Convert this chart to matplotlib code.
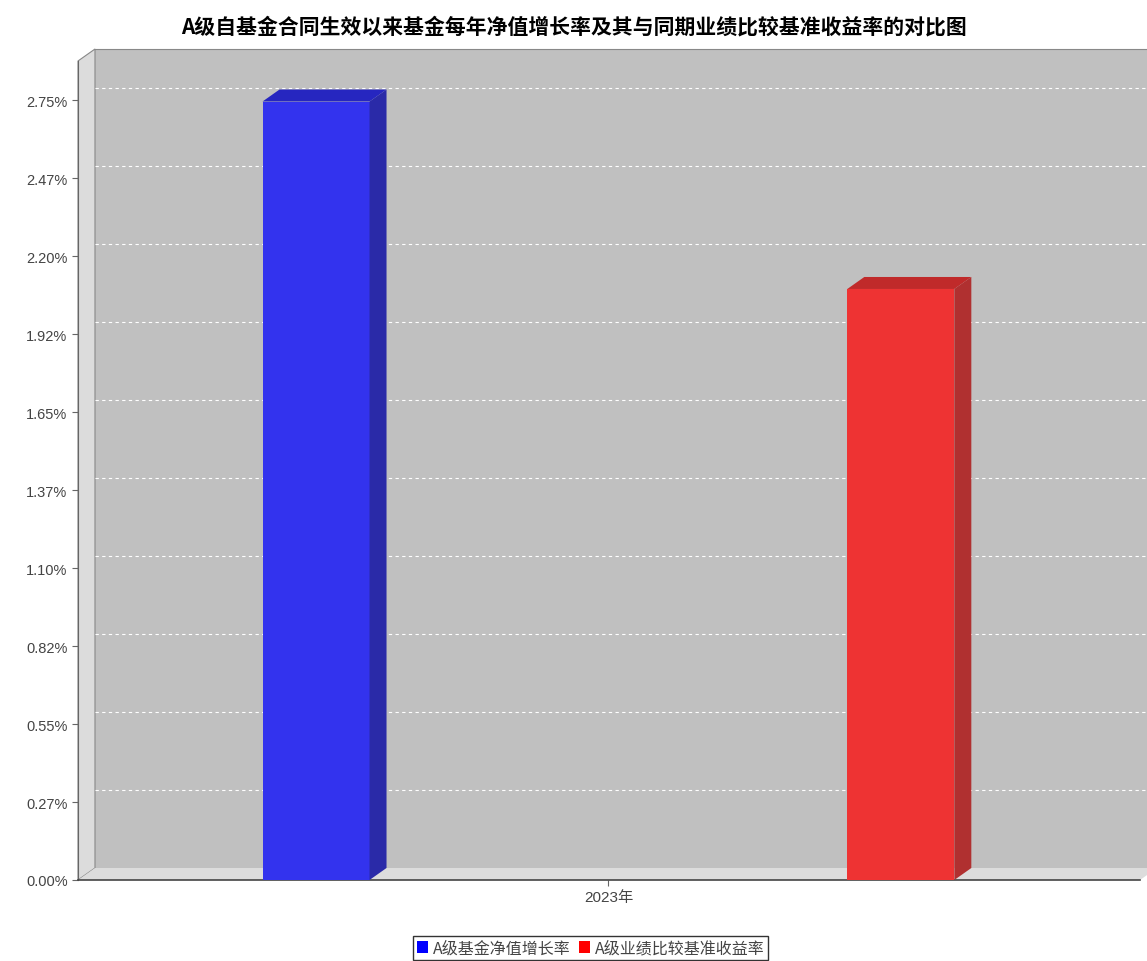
import matplotlib
matplotlib.use("Agg")
import matplotlib.pyplot as plt
from matplotlib.patches import Polygon, Rectangle

plt.rcParams['font.family'] = ['Noto Sans CJK SC', 'DejaVu Sans']

title = "A级自基金合同生效以来基金每年净值增长率及其与同期业绩比较基准收益率的对比图"
category = "2023年"
series = ["A级基金净值增长率", "A级业绩比较基准收益率"]
values = [2.745, 2.084]
front_colors = ["#3333ee", "#ee3333"]
side_colors = ["#2a2aa8", "#b03030"]
top_colors = ["#2626c0", "#c02a2a"]
ticks = [0.0, 0.275, 0.55, 0.825, 1.10, 1.375, 1.65, 1.925, 2.20, 2.475, 2.75]
tick_labels = ["0.00%", "0.27%", "0.55%", "0.82%", "1.10%", "1.37%", "1.65%", "1.92%", "2.20%", "2.47%", "2.75%"]

W, H = 1147, 962
fig = plt.figure(figsize=(W/100, H/100), dpi=100)
L, R, B, T = 78, 1140, 881, 62
ax = fig.add_axes([L/W, (H-B)/H, (R-L)/W, (B-T)/H])
xmin, xmax = -0.407, 1.409
ymin, ymax = 0, (B-T)/283.6
ax.set_xlim(xmin, xmax); ax.set_ylim(ymin, ymax)
dx = 17/585; dy = 12/283.6

ax.add_patch(Rectangle((xmin+dx, dy), xmax-xmin, ymax, facecolor="#c0c0c0", edgecolor="none", clip_on=False, zorder=0))
ax.plot([xmin+dx, xmax+dx], [ymax+dy, ymax+dy], color="#888888", lw=0.8, clip_on=False, zorder=1)
ax.add_patch(Polygon([(xmin, 0), (xmin+dx, dy), (xmin+dx, ymax+dy), (xmin, ymax)], closed=True,
                     facecolor="#dcdcdc", edgecolor="#888888", lw=0.8, clip_on=False, zorder=1))
ax.add_patch(Polygon([(xmin, 0), (xmax, 0), (xmax+dx, dy), (xmin+dx, dy)], closed=True,
                     facecolor="#dcdcdc", edgecolor="none", clip_on=False, zorder=1))
for t in ticks[1:]:
    ax.plot([xmin+dx, xmax+dx], [t+dy, t+dy], color="white", lw=0.8, ls=(0, (3, 3)), clip_on=False, zorder=1)

bw = 0.183
for i, v in enumerate(values):
    x0 = i - bw/2
    ax.add_patch(Rectangle((x0, 0), bw, v, facecolor=front_colors[i], edgecolor="none", zorder=3))
    ax.add_patch(Polygon([(x0+bw, 0), (x0+bw+dx, dy), (x0+bw+dx, v+dy), (x0+bw, v)], closed=True,
                         facecolor=side_colors[i], edgecolor="none", zorder=3))
    ax.add_patch(Polygon([(x0, v), (x0+bw, v), (x0+bw+dx, v+dy), (x0+dx, v+dy)], closed=True,
                         facecolor=top_colors[i], edgecolor="none", zorder=3))

for s in ["top", "right"]:
    ax.spines[s].set_visible(False)
ax.spines["left"].set_color("#666666")
ax.spines["bottom"].set_color("#444444")
ax.spines["bottom"].set_linewidth(1.2)
ax.set_yticks(ticks)
ax.set_yticklabels(tick_labels, fontsize=10.5, color="#444444", family=['Liberation Sans'])
ax.set_xticks([0.5])
ax.set_xticklabels([category], fontsize=11, color="#444444", family=['Liberation Sans', 'Noto Sans CJK SC'])
ax.tick_params(axis="both", color="#666666", length=4)
ax.set_facecolor("none")

fig.text(0.5, 1-27/H, title, ha="center", va="center", fontsize=15, fontweight="bold")
handles = [Rectangle((0, 0), 1, 1, facecolor=c) for c in ["#0000ff", "#ff0000"]]
leg = fig.legend(handles, series, loc="center", bbox_to_anchor=(0.515, 1-949/H), ncol=2, fontsize=11.5,
           frameon=True, fancybox=False, edgecolor="black", handlelength=0.7, handleheight=0.7,
           handletextpad=0.3, columnspacing=0.5, borderpad=0.25, labelcolor="#444444")
fig.savefig("out.png", dpi=100, facecolor="white")
